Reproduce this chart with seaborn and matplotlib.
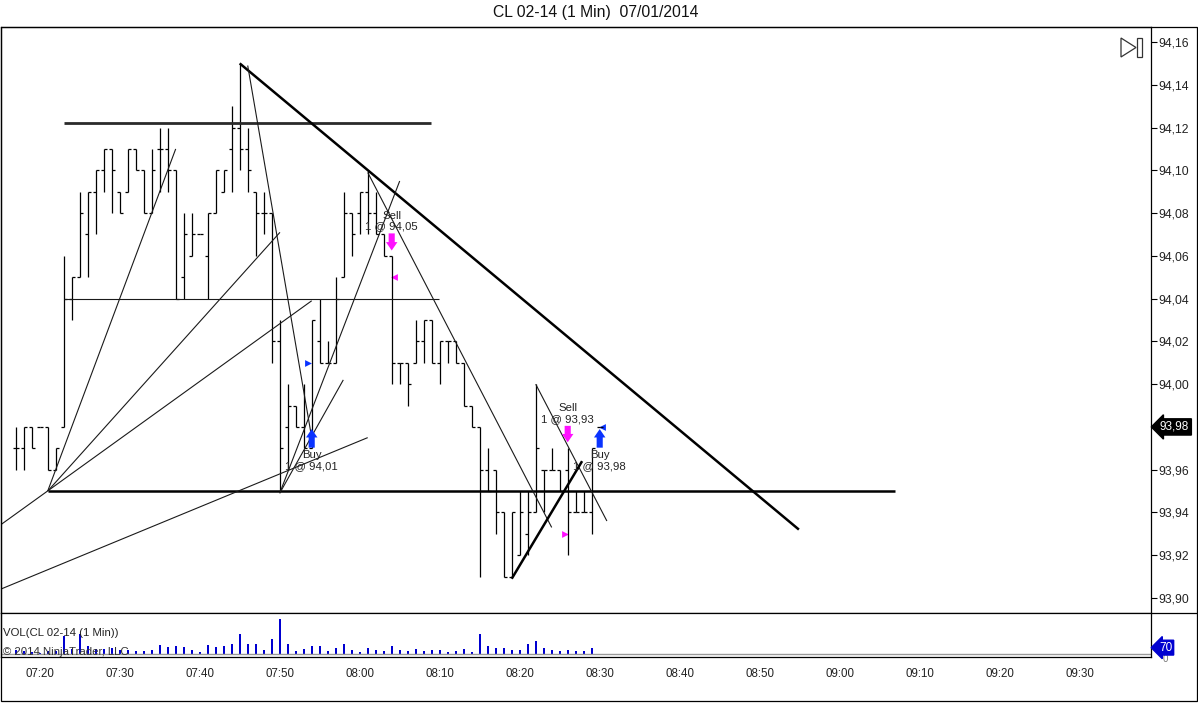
import matplotlib
matplotlib.use("Agg")
import matplotlib.pyplot as plt
import matplotlib.transforms as mtrans
from matplotlib.patches import Polygon, Rectangle
from matplotlib.lines import Line2D
import numpy as np
import pandas as pd
import seaborn as sns

# ---------------- data ----------------
times = ["07:17", "07:18", "07:19", "07:20", "07:21", "07:22", "07:23", "07:24", "07:25", "07:26",
         "07:27", "07:28", "07:29", "07:30", "07:31", "07:32", "07:33", "07:34", "07:35", "07:36",
         "07:37", "07:38", "07:39", "07:40", "07:41", "07:42", "07:43", "07:44", "07:45", "07:46",
         "07:47", "07:48", "07:49", "07:50", "07:51", "07:52", "07:53", "07:54", "07:55", "07:56",
         "07:57", "07:58", "07:59", "08:00", "08:01", "08:02", "08:03", "08:04", "08:05", "08:06",
         "08:07", "08:08", "08:09", "08:10", "08:11", "08:12", "08:13", "08:14", "08:15", "08:16",
         "08:17", "08:18", "08:19", "08:20", "08:21", "08:22", "08:23", "08:24", "08:25", "08:26",
         "08:27", "08:28", "08:29", "08:30"]
opens = [93.97, 93.97, 93.98, 93.98, 93.98, 93.96, 93.98, 94.04, 94.05, 94.07,
         94.09, 94.10, 94.11, 94.09, 94.09, 94.11, 94.10, 94.08, 94.11, 94.11,
         94.10, 94.05, 94.06, 94.07, 94.06, 94.08, 94.09, 94.11, 94.12, 94.11,
         94.09, 94.08, 94.08, 94.02, 93.98, 93.99, 93.98, 93.97, 94.02, 94.01,
         94.01, 94.05, 94.08, 94.08, 94.09, 94.08, 94.07, 94.06, 94.01, 94.01,
         94.01, 94.02, 94.03, 94.01, 94.02, 94.02, 94.01, 93.99, 93.98, 93.96,
         93.96, 93.94, 93.91, 93.92, 93.93, 93.94, 93.96, 93.96, 93.96, 93.96,
         93.94, 93.94, 93.94, 93.98]
highs = [93.98, 93.98, 93.98, 93.98, 93.98, 93.97, 94.06, 94.05, 94.09, 94.09,
         94.10, 94.11, 94.11, 94.09, 94.11, 94.11, 94.10, 94.11, 94.12, 94.12,
         94.10, 94.08, 94.08, 94.07, 94.08, 94.10, 94.10, 94.13, 94.15, 94.12,
         94.09, 94.09, 94.08, 94.03, 94.00, 93.99, 94.00, 94.03, 94.04, 94.02,
         94.05, 94.09, 94.08, 94.09, 94.10, 94.09, 94.07, 94.06, 94.01, 94.01,
         94.03, 94.03, 94.03, 94.02, 94.02, 94.02, 94.01, 93.99, 93.98, 93.97,
         93.96, 93.94, 93.94, 93.95, 93.95, 94.00, 93.96, 93.97, 93.96, 93.97,
         93.95, 93.95, 93.97, 93.98]
lows = [93.96, 93.96, 93.97, 93.98, 93.96, 93.96, 93.98, 94.03, 94.05, 94.05,
        94.07, 94.09, 94.08, 94.08, 94.09, 94.10, 94.08, 94.08, 94.09, 94.09,
        94.04, 94.04, 94.06, 94.07, 94.04, 94.08, 94.09, 94.09, 94.10, 94.09,
        94.06, 94.07, 94.01, 93.95, 93.96, 93.98, 93.97, 93.97, 94.01, 94.01,
        94.01, 94.05, 94.06, 94.07, 94.07, 94.07, 94.06, 94.00, 94.00, 93.99,
        94.01, 94.01, 94.01, 94.00, 94.01, 94.01, 93.99, 93.98, 93.91, 93.95,
        93.93, 93.91, 93.91, 93.92, 93.92, 93.94, 93.94, 93.96, 93.95, 93.92,
        93.94, 93.94, 93.93, 93.98]
closes = [93.97, 93.98, 93.97, 93.98, 93.96, 93.97, 94.04, 94.05, 94.08, 94.09,
          94.10, 94.11, 94.10, 94.08, 94.11, 94.10, 94.08, 94.10, 94.11, 94.10,
          94.04, 94.07, 94.07, 94.07, 94.08, 94.10, 94.10, 94.12, 94.11, 94.10,
          94.08, 94.08, 94.02, 93.97, 93.99, 93.98, 93.97, 94.03, 94.01, 94.01,
          94.04, 94.08, 94.07, 94.09, 94.08, 94.07, 94.06, 94.01, 94.01, 94.00,
          94.02, 94.03, 94.01, 94.02, 94.02, 94.01, 93.99, 93.98, 93.96, 93.95,
          93.94, 93.91, 93.94, 93.94, 93.94, 93.97, 93.96, 93.96, 93.95, 93.94,
          93.94, 93.94, 93.97, 93.98]
volumes = [40, 30, 25, 10, 35, 30, 195, 60, 225, 90,
           55, 55, 65, 40, 40, 30, 30, 40, 100, 75,
           85, 75, 40, 18, 100, 75, 85, 115, 225, 115,
           105, 40, 160, 380, 115, 30, 55, 85, 85, 30,
           65, 115, 40, 18, 65, 40, 30, 90, 48, 30,
           55, 30, 40, 40, 22, 30, 55, 22, 225, 90,
           65, 65, 48, 48, 105, 145, 65, 40, 30, 48,
           30, 30, 70, 3]

x_tick_labels = ["07:20", "07:30", "07:40", "07:50", "08:00", "08:10", "08:20",
                 "08:30", "08:40", "08:50", "09:00", "09:10", "09:20", "09:30"]
price_ticks = [93.90, 93.92, 93.94, 93.96, 93.98, 94.00, 94.02, 94.04,
               94.06, 94.08, 94.10, 94.12, 94.14, 94.16]

# drawing tools (trend lines)
line_t0 = ["07:23:00", "07:21:00", "07:23:00", "07:45:00", "07:46:00", "07:21:00", "07:21:00",
           "07:15:02", "07:15:02", "07:50:00", "07:50:00", "08:01:00", "08:22:00", "08:19:00"]
line_p0 = [94.122, 93.95, 94.04, 94.15, 94.149, 93.95, 93.95,
           93.934, 93.904, 93.949, 93.949, 94.099, 94.00, 93.909]
line_t1 = ["08:08:54", "09:06:54", "08:09:54", "08:54:54", "07:54:00", "07:37:00", "07:50:02",
           "07:54:00", "08:01:00", "08:05:00", "07:57:57", "08:24:00", "08:30:54", "08:27:48"]
line_p1 = [94.122, 93.95, 94.04, 93.932, 93.975, 94.110, 94.071,
           94.039, 93.975, 94.095, 94.002, 93.933, 93.936, 93.964]
line_kind = ["thickgray", "thick", "thin", "thick", "thin", "thin", "thin",
             "thin", "thin", "thin", "thin", "thin", "thin", "thick"]

# executions
trade_time = ["07:54", "08:04", "08:26", "08:30"]
trade_side = ["Buy", "Sell", "Sell", "Buy"]
trade_price = [94.01, 94.05, 93.93, 93.98]
arrow_tip = [93.9790, 94.0625, 93.9728, 93.9790]
arrow_tail = [93.9703, 94.0705, 93.9805, 93.9703]
fill_marker = [">", "<", ">", "<"]
fill_offset = [-0.5, 0.3, -0.4, 0.3]

last_price = 93.98
last_volume = 70


def to_min(t):
    parts = t.split(":")
    h, m = int(parts[0]), int(parts[1])
    s = int(parts[2]) if len(parts) > 2 else 0
    return h * 60 + m + s / 60.0 - (7 * 60 + 20)


def fmt(v):
    return f"{v:.2f}".replace(".", ",")


# ---------------- style ----------------
sns.set_style("white")
plt.rcParams["font.family"] = ["Liberation Sans", "DejaVu Sans"]

W, H = 1198, 703
fig = plt.figure(figsize=(W / 100, H / 100), dpi=100)
fig.patch.set_facecolor("white")


def fx(px):
    return px / W


def fy(py):
    return 1 - py / H


ax = fig.add_axes([fx(1), fy(613), fx(1151) - fx(1), fy(27) - fy(613)])
axv = fig.add_axes([fx(1), fy(657), fx(1151) - fx(1), fy(613) - fy(657)])

mins = np.array([to_min(t) for t in times])
xl = ((1 - 39.7) / 8, (1151 - 39.7) / 8)

# ---------------- OHLC bars ----------------
tick = 0.36
ax.vlines(mins, lows, highs, color="black", lw=0.9)
ax.hlines(opens, mins - tick, mins, color="black", lw=0.9)
ax.hlines(closes, mins, mins + tick, color="black", lw=0.9)

# ---------------- drawing tools ----------------
styles = {"thick": dict(color="black", lw=1.8),
          "thickgray": dict(color="#2a2a2a", lw=2.0),
          "thin": dict(color="#1a1a1a", lw=0.8)}
for t0, p0, t1, p1, k in zip(line_t0, line_p0, line_t1, line_p1, line_kind):
    ax.plot([to_min(t0), to_min(t1)], [p0, p1], solid_capstyle="butt", **styles[k])

# ---------------- executions ----------------
for t, side, pr, tip, tail, mk, off in zip(trade_time, trade_side, trade_price,
                                            arrow_tip, arrow_tail, fill_marker, fill_offset):
    m = to_min(t)
    col = "#0a33ff" if side == "Buy" else "#ff10ff"
    ax.annotate("", xy=(m, tip), xytext=(m, tail),
                arrowprops=dict(arrowstyle="simple,head_length=0.55,head_width=0.75,tail_width=0.4",
                                fc=col, ec=col, lw=0, shrinkA=0, shrinkB=0, mutation_scale=11))
    label = f"{side}\n1 @ {fmt(pr)}"
    if side == "Sell":
        ax.annotate(label, xy=(m, tail), xytext=(0, 1.5), textcoords="offset points",
                    ha="center", va="bottom", fontsize=8.2, color="#222222", linespacing=1.05)
    else:
        ax.annotate(label, xy=(m, tail), xytext=(0, -2.0), textcoords="offset points",
                    ha="center", va="top", fontsize=8.2, color="#222222", linespacing=1.05)
    sns.scatterplot(x=[m + off], y=[pr], marker=mk, s=24, color=col, linewidth=0, ax=ax)

ax.set_xlim(*xl)
ax.set_ylim(94.16 - (613 - 42) / 2138.5, 94.16 + 15 / 2138.5)
ax.set_xticks([])
ax.yaxis.tick_right()
ax.set_yticks(price_ticks)
ax.set_yticklabels([fmt(v) for v in price_ticks])
ax.tick_params(axis="y", direction="out", length=4, width=0.8, pad=1.5,
               labelsize=8.8, colors="black", labelcolor="#222222")
for sp in ax.spines.values():
    sp.set_color("black")
    sp.set_linewidth(0.9)
ax.set_xlabel("")
ax.set_ylabel("")

# last price tag
bt = mtrans.blended_transform_factory(ax.transAxes, ax.transData)
ax.text(1.0 + 9 / 1150, last_price, fmt(last_price), transform=bt, ha="left", va="center",
        fontsize=8.5, color="white",
        bbox=dict(boxstyle="larrow,pad=0.18", fc="black", ec="black"))

# ---------------- volume ----------------
sns.histplot(x=mins, weights=volumes, discrete=True, shrink=0.3, color="#0000d0",
             alpha=1, linewidth=0, edgecolor=None, ax=axv)
axv.set_xlim(*xl)
axv.set_ylim(-33, 451)
axv.axhline(0, color="#9a9a9a", lw=1.0)
axv.set_ylabel("")
axv.set_xlabel("")
axv.set_yticks([])
axv.set_xticks([to_min(t) for t in x_tick_labels])
axv.set_xticklabels(x_tick_labels)
axv.tick_params(axis="x", direction="out", length=5, width=0.8, pad=3,
                labelsize=8.3, colors="black", labelcolor="#222222")
for sp in axv.spines.values():
    sp.set_color("black")
    sp.set_linewidth(0.9)
axv.spines["top"].set_visible(False)

bv = mtrans.blended_transform_factory(axv.transAxes, axv.transData)
axv.text(1.0 + 12 / 1150, 0, "0", transform=bv, ha="left", va="top", fontsize=7, color="#777777")
axv.text(1.0 + 8 / 1150, last_volume, str(last_volume), transform=bv, ha="left", va="center",
         fontsize=8.5, color="white",
         bbox=dict(boxstyle="larrow,pad=0.12", fc="#0000d0", ec="#0000d0"))
axv.text(2 / 1150, 0.55, "VOL(CL 02-14 (1 Min))", transform=axv.transAxes, ha="left",
         va="center", fontsize=8.2, color="#222222")
axv.text(2 / 1150, 0.12, "© 2014 NinjaTrader, LLC", transform=axv.transAxes, ha="left",
         va="center", fontsize=8.2, color="#333333")

# ---------------- frame, title, icon ----------------
fig.add_artist(Rectangle((fx(1), fy(701)), fx(1197) - fx(1), fy(27) - fy(701),
                         transform=fig.transFigure, fill=False, ec="black", lw=0.9))
fig.add_artist(Line2D([fx(1), fx(1197)], [fy(613), fy(613)], transform=fig.transFigure,
                      color="black", lw=0.9))
fig.text(fx(596), fy(13), "CL 02-14 (1 Min)  07/01/2014", ha="center", va="center",
         fontsize=11.3, color="#111111")

fig.add_artist(Polygon([[fx(1121), fy(38)], [fx(1121), fy(57)], [fx(1136), fy(47.5)]],
                       closed=True, fill=False, ec="#333333", lw=0.9, transform=fig.transFigure))
fig.add_artist(Rectangle((fx(1137), fy(57)), fx(1142) - fx(1137), fy(38) - fy(57),
                         fill=False, ec="#333333", lw=0.9, transform=fig.transFigure))

fig.savefig("out.png", dpi=100, facecolor="white")
